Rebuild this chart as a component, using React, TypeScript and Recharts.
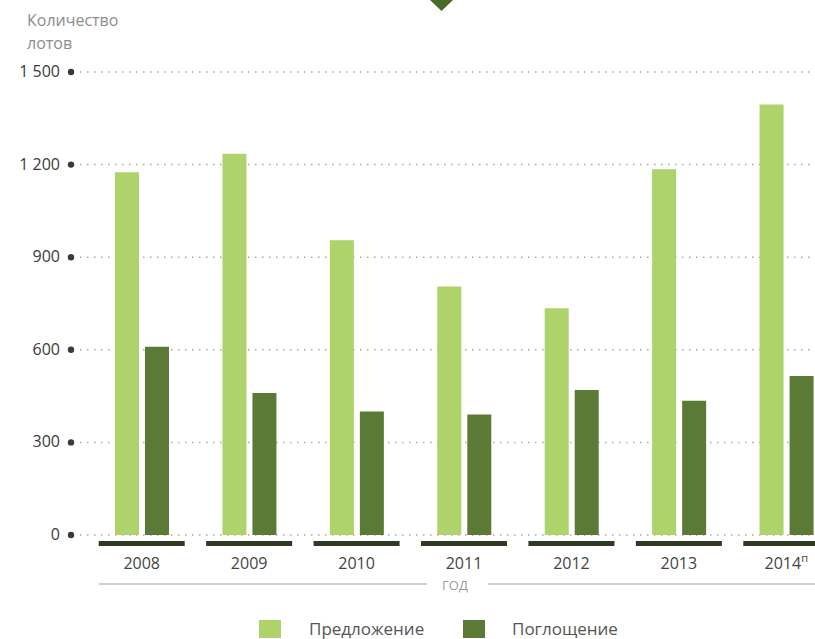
import { BarChart, Bar, XAxis, YAxis, CartesianGrid, Customized } from 'recharts';

const years = ['2008', '2009', '2010', '2011', '2012', '2013', '2014'];
const supply = [1175, 1235, 955, 805, 735, 1185, 1395];
const absorption = [610, 460, 400, 390, 470, 435, 515];
const yTicks = [0, 300, 600, 900, 1200, 1500];

const data = years.map((year, i) => ({ year, supply: supply[i], absorption: absorption[i] }));

const LIGHT = '#add36a';
const DARK = '#5a7a36';
const FONT = '"Open Sans", "Noto Sans", sans-serif';

const fmt = (v: number) => (v >= 1000 ? `${Math.floor(v / 1000)} ${String(v % 1000).padStart(3, '0')}` : String(v));

function YTick(props: any) {
  const { y, payload } = props;
  return (
    <g>
      <text x={60} y={y} dy={5} textAnchor="end" fill="#3a3a3a" fontSize={16} fontFamily={FONT}>
        {fmt(payload.value)}
      </text>
      <circle cx={71} cy={y} r={3.2} fill="#3a3a3a" />
    </g>
  );
}

function XTick(props: any) {
  const { x, y, payload } = props;
  const last = payload.value === '2014';
  return (
    <g>
      <rect x={x - 43} y={y - 2} width={86} height={5} fill="#2c3b22" />
      <text x={x} y={y + 26} textAnchor="middle" fill="#444" fontSize={16} fontFamily={FONT}>
        {payload.value}
        {last && (
          <tspan fontSize={11} dy={-7}>
            п
          </tspan>
        )}
      </text>
    </g>
  );
}

function AxisLabel(props: any) {
  const { viewBox } = props;
  const y = viewBox.y + 49;
  return (
    <g>
      <line x1={99} x2={427} y1={y} y2={y} stroke="#cfcfcf" strokeWidth={2} />
      <line x1={488} x2={900} y1={y} y2={y} stroke="#cfcfcf" strokeWidth={2} />
      <text x={455} y={y + 6} textAnchor="middle" fill="#9a9a9a" fontSize={13} fontFamily={FONT}>
        ГОД
      </text>
    </g>
  );
}

function Decor() {
  return (
    <g>
      <polygon points="430,0 453,0 441.5,11" fill="#476b26" />
      <text x={27} y={26} fill="#8c8c8c" fontSize={16} fontFamily={FONT}>
        Количество
      </text>
      <text x={27} y={49} fill="#8c8c8c" fontSize={16} fontFamily={FONT}>
        лотов
      </text>
    </g>
  );
}

export default function App() {
  return (
    <div style={{ position: 'absolute', left: 0, top: 0, width: 815, height: 639, overflow: 'hidden', background: '#fff' }}>
      <BarChart
        width={840}
        height={639}
        data={data}
        margin={{ top: 72, right: 0, bottom: 44, left: 0 }}
        barSize={24}
        barGap={6}
      >
        <CartesianGrid vertical={false} stroke="#a8a8a8" strokeDasharray="1.5 5.5" strokeWidth={1.5} />
        <YAxis
          width={80}
          domain={[0, 1500]}
          ticks={yTicks}
          axisLine={false}
          tickLine={false}
          tick={<YTick />}
          interval={0}
        />
        <XAxis
          dataKey="year"
          height={60}
          axisLine={false}
          tickLine={false}
          padding={{ left: 8, right: 0 }}
          tick={<XTick />}
          interval={0}
          label={<AxisLabel />}
        />
        <Bar dataKey="supply" fill={LIGHT} isAnimationActive={false} />
        <Bar dataKey="absorption" fill={DARK} isAnimationActive={false} />
        <Customized component={Decor} />
      </BarChart>
      <div style={{ position: 'absolute', top: 620, left: 259, display: 'flex', alignItems: 'center', fontFamily: FONT, fontSize: 17, color: '#555', lineHeight: '18px' }}>
        <span style={{ width: 22, height: 18, background: LIGHT, display: 'inline-block' }} />
        <span style={{ marginLeft: 28, width: 154 }}>Предложение</span>
        <span style={{ width: 22, height: 18, background: DARK, display: 'inline-block' }} />
        <span style={{ marginLeft: 27 }}>Поглощение</span>
      </div>
    </div>
  );
}
